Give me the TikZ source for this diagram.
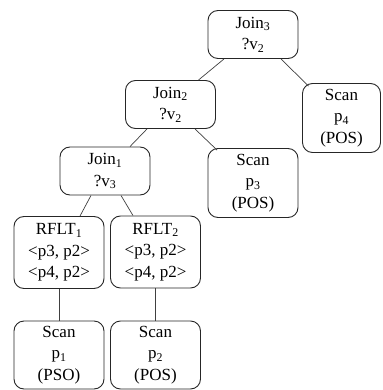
\documentclass[tikz,border=0pt]{standalone}
\usepackage{fontspec}
\setmainfont{Liberation Serif}
\begin{document}
\begin{tikzpicture}
\tikzset{op/.style={draw=black!85,line width=0.9pt,rounded corners=10pt,minimum width=90pt,align=center,inner xsep=2pt,inner ysep=4pt,font=\fontsize{17}{21.5}\selectfont},
joinop/.style={op,minimum height=48pt},
scanop/.style={op,minimum height=69pt},
edge/.style={draw=black!75,line width=0.7pt},
node distance=70pt,
}
\useasboundingbox (0,0) rectangle (382pt,-390pt);

\node[joinop] (join3) at (253pt,-34.5pt) {Join\textsubscript{3}\\?v\textsubscript{2}};
\node[joinop] (join2) [below of=join3,xshift=-82.5pt] {Join\textsubscript{2}\\?v\textsubscript{2}};
\node[scanop,minimum width=78pt] (scan4) [below of=join3,xshift=88.5pt,yshift=-13.5pt] {Scan\\p\textsubscript{4}\\(POS)};
\node[joinop] (join1) [below of=join2,xshift=-65.5pt,yshift=3.5pt] {Join\textsubscript{1}\\?v\textsubscript{3}};
\node[scanop] (scan3) [below of=join2,xshift=82.5pt,yshift=-8.5pt] {Scan\\p\textsubscript{3}\\(POS)};
\node[op,minimum height=72pt] (rflt1) [below of=join1,xshift=-46pt,yshift=-11.5pt] {RFLT\textsubscript{1}\\\textless p3, p2\textgreater\\\textless p4, p2\textgreater};
\node[op,minimum height=72pt] (rflt2) [below of=join1,xshift=50.5pt,yshift=-11pt] {RFLT\textsubscript{2}\\\textless p3, p2\textgreater\\\textless p4, p2\textgreater};
\node[scanop,minimum height=68pt] (scan1) [below of=rflt1,yshift=-32.5pt] {Scan\\p\textsubscript{1}\\(PSO)};
\node[scanop,minimum height=68pt] (scan2) [below of=rflt2,yshift=-33pt] {Scan\\p\textsubscript{2}\\(POS)};

\path[edge] ([xshift=-29pt]join3.south) -- ([xshift=28pt]join2.north);
\path[edge] ([xshift=28pt]join3.south) -- ([xshift=-33pt,yshift=-3pt]scan4.north);
\path[edge] ([xshift=-23.5pt]join2.south) -- ([xshift=25pt]join1.north);
\path[edge] ([xshift=24.5pt]join2.south) -- ([xshift=-36pt,yshift=-2pt]scan3.north);
\path[edge] ([xshift=-14pt]join1.south) -- ([xshift=21pt]rflt1.north);
\path[edge] ([xshift=16pt]join1.south) -- ([xshift=-22.5pt]rflt2.north);
\path[edge] (rflt1.south) -- (scan1.north);
\path[edge] (rflt2.south) -- (scan2.north);

\end{tikzpicture}
\end{document}
